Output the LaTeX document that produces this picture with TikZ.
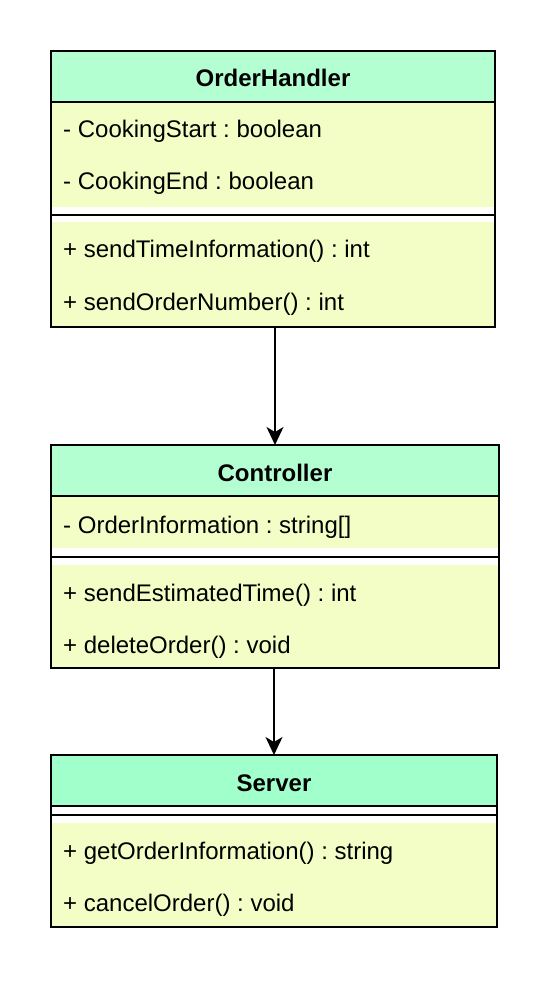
\documentclass[tikz,border=0pt]{standalone}
\usepackage{fontspec}
\setmainfont{Liberation Sans}
\usetikzlibrary{arrows.meta,positioning}
\definecolor{headgreen}{RGB}{180,255,210}
\definecolor{servgreen}{RGB}{160,255,202}
\definecolor{bodyyellow}{RGB}{243,254,198}
\frenchspacing

\begin{document}
\begin{tikzpicture}[x=1pt, y=-1pt, >={Stealth[length=18pt, width=17pt, inset=5pt]},
  head/.style={draw, line width=1.3pt, fill=headgreen, anchor=north west, outer sep=0pt, minimum height=51pt, text height=21pt, text depth=0pt, font=\bfseries\fontsize{24}{28}\selectfont},
  part/.style={fill=bodyyellow, anchor=north west, outer sep=0pt, inner sep=0pt},
  member/.style={anchor=base west, inner sep=0pt, font=\fontsize{24}{28}\selectfont},
  sep/.style={line width=1.3pt}]
  \useasboundingbox (0,0) rectangle (550,984);

  % OrderHandler
  \node[part, minimum width=444pt, minimum height=105pt] (ohattr) at (51,102) {};
  \node[part, minimum width=444pt, minimum height=105pt] (ohmeth) at (51,222) {};
  \node[head, minimum width=444pt] (oh) at (51,51) {OrderHandler};
  \draw[sep] (51,215) -- (495,215);
  \draw[sep] (oh.north west) rectangle (ohmeth.south east);
  \node[member] (ohstart) at (63,138) {- CookingStart : boolean};
  \node[member] (ohend) at (63,190) {- CookingEnd : boolean};
  \node[member] (ohtime) at (63,258) {+ sendTimeInformation() : int};
  \node[member] (ohnum) at (63,310) {+ sendOrderNumber() : int};

  % Controller
  \node[part, minimum width=448pt, minimum height=52pt] (ctlattr) at (51,496) {};
  \node[part, minimum width=448pt, minimum height=103pt] (ctlmeth) at (51,565) {};
  \node[head, minimum width=448pt] (ctl) at (51,445) {Controller};
  \draw[sep] (51,557) -- (499,557);
  \draw[sep] (ctl.north west) rectangle (ctlmeth.south east);
  \node[member] (ctlinfo) at (63,533) {- OrderInformation : string[]};
  \node[member] (ctltime) at (63,601) {+ sendEstimatedTime() : int};
  \node[member] (ctldel) at (63,653) {+ deleteOrder() : void};

  % Server
  \node[part, minimum width=446pt, minimum height=104pt] (srvmeth) at (51,823) {};
  \node[head, fill=servgreen, minimum width=446pt] (srv) at (51,755) {Server};
  \draw[sep] (51,815) -- (497,815);
  \draw[sep] (srv.north west) rectangle (srvmeth.south east);
  \node[member] (srvinfo) at (63,859) {+ getOrderInformation() : string};
  \node[member] (srvcancel) at (63,911) {+ cancelOrder() : void};

  \draw[->, line width=1.3pt] (ohmeth.south -| ctl.north) -- (ctl.north);
  \draw[->, line width=1.3pt] (ctlmeth.south -| srv.north) -- (srv.north);
\end{tikzpicture}
\end{document}
